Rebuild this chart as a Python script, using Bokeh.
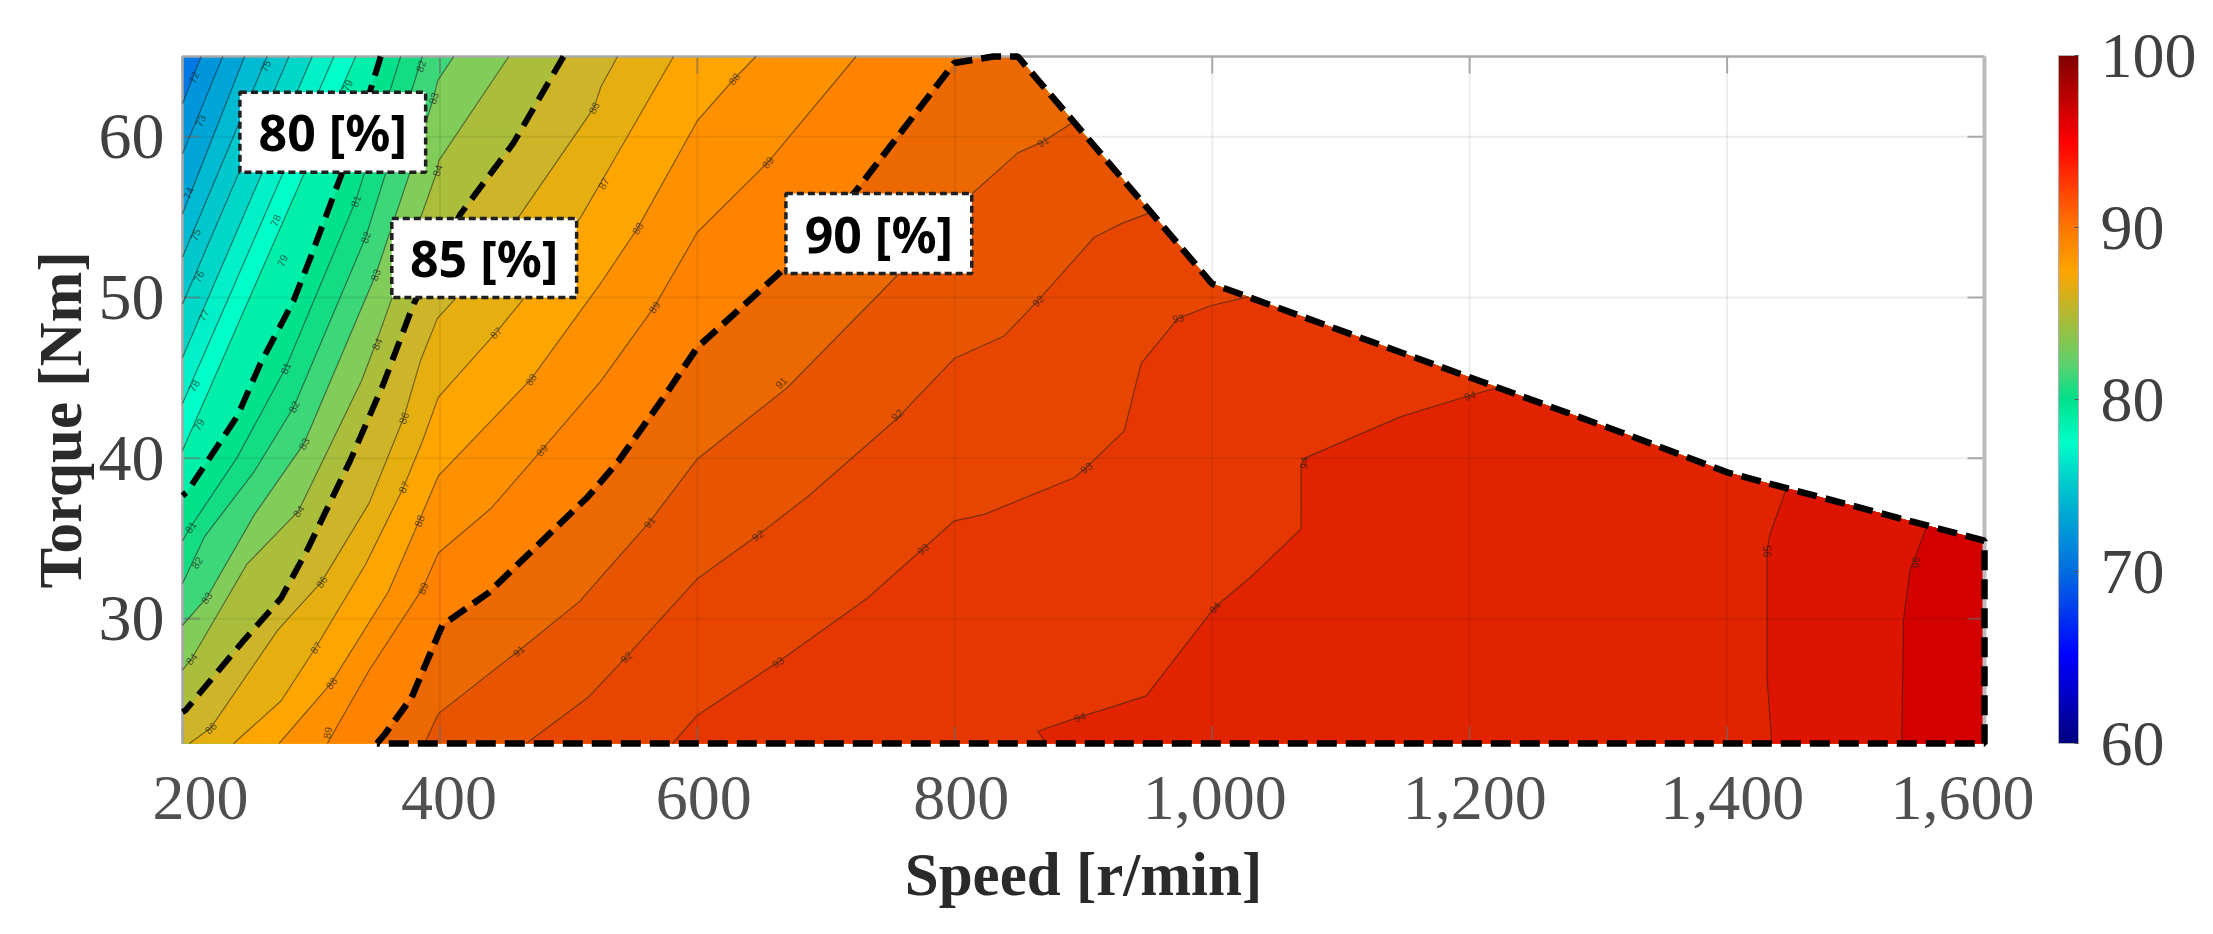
import numpy as np
from bokeh.embed import file_html
from bokeh.resources import INLINE
from bokeh.plotting import figure
from bokeh.models import Range1d, FixedTicker, ColorBar, LinearColorMapper, Title
from bokeh.core.properties import value

# Axis ticks
speed_ticks = [200, 400, 600, 800, 1000, 1200, 1400, 1600]
speed_labels = ["200", "400", "600", "800", "1,000", "1,200", "1,400", "1,600"]
speed_label_positions = [214, 407, 605, 805, 1002, 1204, 1404, 1583]
torque_ticks = [30, 40, 50, 60]
cbar_ticks = [60, 70, 80, 90, 100]

# Operating envelope (speed, torque), right to left along the upper boundary
envelope = [(1600, 34.86), (1400.7, 39.1), (1318, 41.6), (1000, 50.85), (849, 65)]
speed_min, speed_max = 200, 1600
bottom_torque = 22.24
top_torque = 65.0

# Efficiency contours (speed, torque), from upper end to lower end
contour_72 = [(214.5, 65), (200, 62.07)]
contour_73 = [(231.3, 65), (200, 58.94)]
contour_74 = [(248.2, 65), (200, 55.2)]
contour_75 = [(265.8, 65), (200, 52.5)]
contour_76 = [(282.7, 65), (200, 49.6)]
contour_77 = [(300.8, 65), (200, 46.26)]
contour_78 = [(317.6, 65), (200, 43.4)]
contour_79 = [(334.5, 65), (200, 40.47)]
contour_80 = [(354, 65), (346, 62.9), (322.8, 57.5), (299.5, 52.5), (286.3, 49.8), (260.6, 45.9), (242.5, 42.6), (203.6, 37.9), (200, 37.67)]
contour_81 = [(369.5, 65), (334.5, 56), (280, 45.6), (242.5, 40.05), (206.2, 35.7), (200, 34.86)]
contour_82 = [(386.3, 65), (342.3, 53.75), (286.5, 43.2), (256, 39.2), (217, 35.1), (200, 32.2)]
contour_83 = [(410.7, 65), (398.3, 63.5), (395, 62.4), (374.7, 57.3), (350, 51.4), (294.3, 40.9), (256, 36.5), (218.7, 31.3), (200, 29.6)]
contour_84 = [(453.5, 65), (399, 58.5), (398, 57.9), (350, 47.1), (339, 44.8), (290, 36.7), (250, 33.4), (207, 27.5), (200, 26.8)]
contour_85 = [(496, 65), (457, 59.6), (416, 55.2), (379.6, 49.6), (356, 44.6), (330, 39.8), (297.6, 34.4), (276.7, 31.3), (247, 28.6), (202.3, 24.3), (200, 24.2)]
contour_86 = [(538, 65), (525, 63.1), (519.6, 61.8), (462.8, 55.2), (410.7, 49.8), (398, 48.7), (385, 46.1), (371.8, 42.5), (345, 37.2), (308, 32.3), (274, 29.3), (221.8, 23.2), (205.4, 22.24)]
contour_87 = [(581.5, 65), (529, 57.7), (509.4, 55), (462.8, 49.7), (443.4, 47.8), (398.8, 43.8), (386.6, 41.1), (371.8, 38.2), (342.3, 33.4), (303.4, 28.2), (276.7, 24.9), (239.7, 22.24)]
contour_88 = [(645.5, 65), (628.5, 63.6), (600, 61), (553.5, 54.3), (525, 50.9), (470.6, 44.9), (398.8, 38.9), (383.9, 36.1), (360, 31.7), (315.5, 26), (275, 22.24)]
contour_89 = [(723.3, 65), (654.6, 58.4), (600, 54.06), (566.4, 49.4), (525, 44.8), (479, 40.5), (440, 36.9), (398.8, 34.1), (386.6, 31.9), (345, 26.8), (312.5, 22.24)]
contour_90 = [(830, 65), (799.6, 64.6), (721.9, 56.5), (667.5, 51.8), (600, 46.9), (574, 43.8), (538.6, 39.8), (515, 37.6), (437.4, 31.6), (401.8, 29.6), (378, 25.1), (357, 22.8), (351, 22.24)]
contour_91 = [(891.7, 60.9), (868.4, 59.7), (849, 59), (814, 56.5), (755.7, 51.4), (670, 44.4), (600, 39.95), (562.6, 36), (525, 32.6), (508.7, 31.1), (461, 28), (398.8, 24.1), (388, 22.24)]
contour_92 = [(952.6, 55.3), (929.3, 54.6), (908.4, 53.75), (864.5, 49.8), (838.3, 47.6), (799.6, 46.2), (768.5, 43.6), (755.7, 42.5), (685.7, 37.6), (646.8, 35.2), (600, 32.5), (544.4, 27.6), (515, 25.1), (467, 22.24)]
contour_93 = [(1028, 50.04), (999.3, 49.5), (973.4, 48.7), (944.8, 45.9), (931.6, 41.7), (902, 39.4), (893, 38.8), (823, 36.5), (799.7, 36.1), (775, 34.35), (732.3, 31.3), (662.4, 27.3), (600, 24), (580.7, 22.24)]
contour_94 = [(1222, 44.4), (1200, 43.9), (1147, 42.6), (1071.8, 40), (1069, 39.6), (1069, 35.6), (1030, 32.6), (1001.7, 30.7), (948.7, 25.2), (913.7, 24.3), (896.9, 23.9), (864.5, 23), (871, 22.24)]
contour_95 = [(1446.3, 38.14), (1433, 35.2), (1431, 34.2), (1431, 26.4), (1434.7, 22.24)]
contour_96 = [(1555.2, 35.8), (1542, 33), (1537, 29.9), (1535.7, 22.24)]

contour_levels = list(range(72, 97))
contours = [contour_72, contour_73, contour_74, contour_75, contour_76, contour_77, contour_78, contour_79,
            contour_80, contour_81, contour_82, contour_83, contour_84, contour_85, contour_86, contour_87,
            contour_88, contour_89, contour_90, contour_91, contour_92, contour_93, contour_94, contour_95, contour_96]

# Inline contour labels (speed, torque, text, rotation in degrees)
inline_labels = [
    (208.7, 63.7, "72", 68), (214, 61, "73", 68), (204.7, 56.5, "74", 68), (210, 53.9, "75", 68), (264.5, 64.4, "75", 68),
    (212.6, 51.3, "76", 65), (216.5, 48.9, "77", 62), (208.9, 44.5, "78", 60), (272.3, 54.8, "78", 68),
    (212.6, 42.1, "79", 60), (277.5, 52.3, "79", 68), (328, 63.2, "79", 68),
    (334.5, 56, "81", 70), (280, 45.6, "81", 65), (206.2, 35.7, "81", 55),
    (385, 64.4, "82", 70), (342.3, 53.75, "82", 68), (286.5, 43.2, "82", 65), (211.3, 33.5, "82", 55),
    (395, 62.4, "83", 72), (350, 51.4, "83", 70), (294.3, 40.9, "83", 62), (218.7, 31.3, "83", 55),
    (398, 57.9, "84", 72), (351, 47.1, "84", 65), (290, 36.7, "84", 55), (207, 27.5, "84", 50),
    (519.6, 61.8, "86", 60), (371.8, 42.5, "86", 68), (308, 32.3, "86", 55), (221.8, 23.2, "86", 45),
    (527, 57.1, "87", 60), (443.4, 47.8, "87", 45), (371.8, 38.2, "87", 65), (303.4, 28.2, "87", 55),
    (628.5, 63.6, "88", 50), (553.5, 54.3, "88", 60), (470.6, 44.9, "88", 55), (383.9, 36.1, "88", 70), (315.5, 26, "88", 55),
    (654.6, 58.4, "89", 50), (566.4, 49.4, "89", 55), (479, 40.5, "89", 50), (386.6, 31.9, "89", 70), (312.5, 22.9, "89", 80),
    (868.4, 59.7, "91", 30), (665, 44.7, "91", 45), (562.6, 36, "91", 50), (461, 28, "91", 42),
    (864.5, 49.8, "92", 45), (755, 42.7, "92", 42), (646.8, 35.2, "92", 35), (544.4, 27.6, "92", 45),
    (973.4, 48.7, "93", 10), (902, 39.4, "93", 35), (775, 34.35, "93", 42), (662.4, 27.3, "93", 35),
    (1200, 43.9, "94", 15), (1071, 39.7, "94", 85), (1001.7, 30.7, "94", 50), (896.9, 23.9, "94", 18),
    (1431, 34.2, "95", 90), (1546, 33.5, "96", 85),
]

# Band fill colours: below 72, then one per contour level
band_colors = ["#0078e6",
    "#0096dc", "#00a5d7", "#00b9d2", "#00c8cd", "#00d7c8", "#00f0c8", "#00ffc8", "#00f0aa", "#00e18c",
    "#14dc82", "#3cd778", "#82cd5a", "#aabe3c", "#cdb428", "#e6af0f", "#ffa500", "#ff9100", "#ff8200",
    "#eb6900", "#e85500", "#e84600", "#e63700", "#e12300", "#dc1400", "#d40000"]

# Annotated iso-efficiency boxes (text, speed span, torque span)
box_texts = ["80 [%]", "85 [%]", "90 [%]"]
box_left = [244.6, 362.6, 668.8]
box_right = [388.9, 506.2, 813.2]
box_top = [62.78, 54.91, 56.47]
box_bottom = [57.8, 50.0, 51.49]

# Colour scale anchors
cbar_values = [60, 65, 70, 75, 77.5, 80, 82, 85, 87.5, 90, 95, 100]
cbar_colors = [(0, 0, 130), (0, 0, 255), (0, 110, 225), (0, 200, 205), (0, 255, 200), (0, 225, 140),
               (90, 210, 110), (180, 185, 50), (255, 165, 0), (255, 120, 0), (255, 0, 0), (130, 0, 0)]

WIDTH, HEIGHT = 2205, 918
LEFT, TOP, BOX_W, BOX_H, PAD = 182, 56, 1802, 687, 6
per_px_x = (speed_max - speed_min) / BOX_W
per_px_y = (top_torque - bottom_torque) / BOX_H
p = figure(width=WIDTH, height=HEIGHT, output_backend="svg", toolbar_location=None,
           x_range=Range1d(speed_min - PAD * per_px_x, speed_max + PAD * per_px_x),
           y_range=Range1d(bottom_torque - PAD * per_px_y, top_torque + PAD * per_px_y),
           min_border_left=LEFT - PAD, min_border_right=WIDTH - LEFT - BOX_W - PAD,
           min_border_top=TOP - PAD, min_border_bottom=HEIGHT - TOP - BOX_H - PAD,
           background_fill_color="white", border_fill_color="white")
p.outline_line_color = None
p.grid.visible = False

x = p.xaxis[0]
x.axis_line_color = None
x.major_tick_line_color = None
x.minor_tick_line_color = None
x.ticker = FixedTicker(ticks=speed_label_positions)
x.major_label_overrides = dict(zip(speed_label_positions, speed_labels))
x.major_label_text_font = "Liberation Serif"
x.major_label_text_font_size = "64px"
x.major_label_text_color = "#505050"
x.major_label_standoff = 21
x.axis_label = "Speed [r/min]"
x.axis_label_text_font = "Liberation Serif"
x.axis_label_text_font_style = "bold"
x.axis_label_text_font_size = "61px"
x.axis_label_text_color = "#2a2a2a"
x.axis_label_standoff = 19

y = p.yaxis[0]
y.axis_line_color = None
y.major_tick_line_color = None
y.minor_tick_line_color = None
y.ticker = FixedTicker(ticks=torque_ticks)
y.major_label_text_font = "Liberation Serif"
y.major_label_text_font_size = "66px"
y.major_label_text_color = "#404040"
y.major_label_standoff = 6
y.major_label_orientation = "horizontal"

p.add_layout(Title(text="Torque [Nm]", align="left", offset=161, standoff=4, text_font="Liberation Serif",
                   text_font_style="bold", text_font_size="61px", text_color="#2a2a2a"), "left")

# Region fills, painted from the lowest level upward
base = [(speed_min, top_torque), (speed_min, bottom_torque), (speed_max, bottom_torque)] + envelope
p.patch([q[0] for q in base], [q[1] for q in base], fill_color=band_colors[0], line_color=None)
for level, line, color in zip(contour_levels, contours, band_colors[1:]):
    start, end = line[0], line[-1]
    pts = list(line)
    if end[0] <= speed_min:
        pts.append((speed_min, bottom_torque))
    pts += [(speed_max, bottom_torque)]
    pts += [q for q in envelope if q[0] > start[0]]
    p.patch([q[0] for q in pts], [q[1] for q in pts], fill_color=color, line_color=None)

# Grid, ticks and box, drawn on the data scales
GRID_ARGS = dict(line_color="black", line_alpha=0.07, line_width=2)
p.segment(x0=speed_ticks, x1=speed_ticks, y0=[bottom_torque] * 8, y1=[top_torque] * 8, **GRID_ARGS)
p.segment(x0=[speed_min] * 4, x1=[speed_max] * 4, y0=torque_ticks, y1=torque_ticks, **GRID_ARGS)
tick_x = 17 * per_px_x
tick_y = 17 * per_px_y
TICK_ARGS = dict(line_color="#707070", line_alpha=0.55, line_width=2)
p.segment(x0=speed_ticks, x1=speed_ticks, y0=[bottom_torque] * 8, y1=[bottom_torque + tick_y] * 8, **TICK_ARGS)
p.segment(x0=speed_ticks, x1=speed_ticks, y0=[top_torque] * 8, y1=[top_torque - tick_y] * 8, **TICK_ARGS)
p.segment(x0=[speed_min] * 4, x1=[speed_min + tick_x] * 4, y0=torque_ticks, y1=torque_ticks, **TICK_ARGS)
p.segment(x0=[speed_max] * 4, x1=[speed_max - tick_x] * 4, y0=torque_ticks, y1=torque_ticks, **TICK_ARGS)
p.line([speed_min, speed_min, speed_max], [bottom_torque, top_torque, top_torque], line_color="#a8a8a8", line_width=2.5)
p.line([speed_max, speed_max], [top_torque, bottom_torque], line_color="#bcbcbc", line_width=4)

# Thin contour lines with the 80/85 % levels dashed
for level, line in zip(contour_levels, contours):
    xs, ys = [q[0] for q in line], [q[1] for q in line]
    if level in (80, 85):
        p.line(xs, ys, line_color="black", line_width=6, line_dash="20 10")
    elif level != 90:
        p.line(xs, ys, line_color="#202020", line_alpha=0.55, line_width=1.2)

# Inline contour labels
p.text([q[0] for q in inline_labels], [q[1] for q in inline_labels], text=[q[2] for q in inline_labels],
       angle=[q[3] for q in inline_labels], angle_units="deg", text_font=value("Liberation Sans"),
       text_font_size="10.5px", text_color="#202020", text_alpha=0.7, text_align="center", text_baseline="middle")

# Thick dashed outline: 90 % contour plus the envelope and the axis edges
outline = contour_90[::-1] + [(849, 65)] + envelope[::-1][1:] + [(speed_max, bottom_torque), contour_90[-1]]
p.line([q[0] for q in outline], [q[1] for q in outline], line_color="black", line_width=6.5, line_dash="20 9")

# Annotated boxes
p.quad(left=box_left, right=box_right, top=box_top, bottom=box_bottom, fill_color="white",
       line_color="#202020", line_width=3.5, line_dash="7 4")
p.text([(a + b) / 2 for a, b in zip(box_left, box_right)], [(a + b) / 2 for a, b in zip(box_top, box_bottom)],
       text=box_texts, text_font=value("Noto Sans"), text_font_style="bold", text_font_size="50px",
       text_color="black", text_align="center", text_baseline="middle")

# Colour bar
stops = np.array(cbar_colors, dtype=float)
grid = np.linspace(60, 100, 256)
rgb = np.column_stack([np.interp(grid, cbar_values, stops[:, i]) for i in range(3)]).astype(int)
palette = ["#%02x%02x%02x" % tuple(c) for c in rgb]
mapper = LinearColorMapper(palette=palette, low=60, high=100)
cb = ColorBar(color_mapper=mapper, ticker=FixedTicker(ticks=cbar_ticks), location=(1876 + PAD, PAD), width=20, height=688,
              padding=0, margin=0, bar_line_color="#b0b0b0", major_tick_line_color="#555555", major_tick_in=4,
              major_label_text_font="Liberation Serif", major_label_text_font_size="64px",
              major_label_text_color="#404040", label_standoff=22, background_fill_alpha=0, border_line_color=None)
p.add_layout(cb)

open("out.html", "w").write(file_html(p, INLINE))
